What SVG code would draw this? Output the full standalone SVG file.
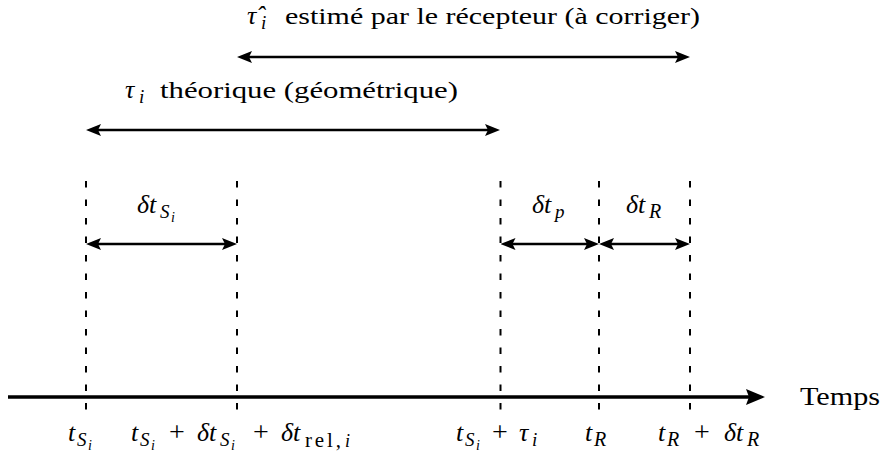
<svg xmlns="http://www.w3.org/2000/svg" width="885" height="455" viewBox="0 0 885 455" font-family="Liberation Serif">
<style>
.dash { stroke: #000; stroke-width: 2; stroke-dasharray: 6.5 12; fill: none; }
.arr { stroke: #000; stroke-width: 2.6; fill: none; marker-start: url(#ah); marker-end: url(#ah); }
.axis { stroke: #000; stroke-width: 3.6; fill: none; marker-end: url(#axh); }
</style>
<defs>
<marker id="ah" viewBox="0 0 15 12" refX="7" refY="6" markerWidth="15" markerHeight="12" markerUnits="userSpaceOnUse" orient="auto-start-reverse">
<path d="M0,0 L15,6 L0,12 L3,6 z" fill="#000"/>
</marker>
<marker id="axh" viewBox="0 0 19 16" refX="6" refY="8" markerWidth="19" markerHeight="16" markerUnits="userSpaceOnUse" orient="auto">
<path d="M0,0 L19,8 L0,16 L3,8 z" fill="#000"/>
</marker>
</defs>

<g id="t-si" font-size="26">
<line class="dash" x1="86" y1="181" x2="86" y2="411"/>
<text x="68" y="441" font-style="italic">t</text>
<text x="77" y="446" font-style="italic" font-size="19">S</text>
<text x="88" y="450" font-style="italic" font-size="14">i</text>
</g>

<g id="t-si-delta" font-size="26">
<line class="dash" x1="237" y1="181" x2="237" y2="411"/>
<text x="131" y="441" font-style="italic">t</text>
<text x="140" y="446" font-style="italic" font-size="19">S</text>
<text x="151" y="450" font-style="italic" font-size="14">i</text>
<text x="169" y="441" font-size="28">+</text>
<text x="197" y="441" font-style="italic">δt</text>
<text x="220" y="446" font-style="italic" font-size="19">S</text>
<text x="231" y="450" font-style="italic" font-size="14">i</text>
<text x="253" y="441" font-size="28">+</text>
<text x="281" y="441" font-style="italic">δt</text>
<text x="305" y="447" font-size="21" textLength="36">rel,</text>
<text x="345" y="447" font-style="italic" font-size="18">i</text>
</g>

<g id="t-si-tau" font-size="26">
<line class="dash" x1="500.5" y1="181" x2="500.5" y2="411"/>
<text x="456" y="441" font-style="italic">t</text>
<text x="465" y="446" font-style="italic" font-size="19">S</text>
<text x="476" y="450" font-style="italic" font-size="14">i</text>
<text x="492" y="441" font-size="28">+</text>
<text x="519" y="441" font-style="italic">τ</text>
<text x="532" y="446" font-style="italic" font-size="19">i</text>
</g>

<g id="t-r" font-size="26">
<line class="dash" x1="599" y1="181" x2="599" y2="411"/>
<text x="585" y="441" font-style="italic">t</text>
<text x="594" y="446" font-style="italic" font-size="20">R</text>
</g>

<g id="t-r-delta" font-size="26">
<line class="dash" x1="690" y1="181" x2="690" y2="411"/>
<text x="658" y="441" font-style="italic">t</text>
<text x="667" y="446" font-style="italic" font-size="20">R</text>
<text x="694" y="441" font-size="28">+</text>
<text x="724" y="441" font-style="italic">δt</text>
<text x="747" y="446" font-style="italic" font-size="20">R</text>
</g>

<g id="label-tauhat" font-size="24">
<text x="247" y="24" font-style="italic" font-size="26">τ̂</text>
<text x="261" y="29" font-style="italic" font-size="19">i</text>
<text x="285" y="24" textLength="415" lengthAdjust="spacingAndGlyphs">estimé par le récepteur (à corriger)</text>
</g>

<g id="label-tau" font-size="24">
<text x="125" y="98" font-style="italic" font-size="26">τ</text>
<text x="139" y="103" font-style="italic" font-size="19">i</text>
<text x="160" y="98" textLength="298" lengthAdjust="spacingAndGlyphs">théorique (géométrique)</text>
</g>

<g id="label-dts" font-size="26">
<text x="137" y="213" font-style="italic">δt</text>
<text x="160" y="218" font-style="italic" font-size="19">S</text>
<text x="171" y="222" font-style="italic" font-size="14">i</text>
</g>

<g id="label-dtp" font-size="26">
<text x="532" y="213" font-style="italic">δt</text>
<text x="555" y="218" font-style="italic" font-size="19">p</text>
</g>

<g id="label-dtr" font-size="26">
<text x="626" y="213" font-style="italic">δt</text>
<text x="649" y="218" font-style="italic" font-size="20">R</text>
</g>

<g id="label-temps" font-size="25">
<text x="800" y="405" textLength="80" lengthAdjust="spacingAndGlyphs">Temps</text>
</g>

<g id="connectors">
<line class="axis" x1="8" y1="397" x2="752" y2="397"/>
<line class="arr" x1="245" y1="57" x2="682" y2="57"/>
<line class="arr" x1="94" y1="130" x2="492" y2="130"/>
<line class="arr" x1="94" y1="244" x2="229" y2="244"/>
<line class="arr" x1="508.5" y1="244" x2="591" y2="244"/>
<line class="arr" x1="607" y1="244" x2="682" y2="244"/>
</g>
</svg>
